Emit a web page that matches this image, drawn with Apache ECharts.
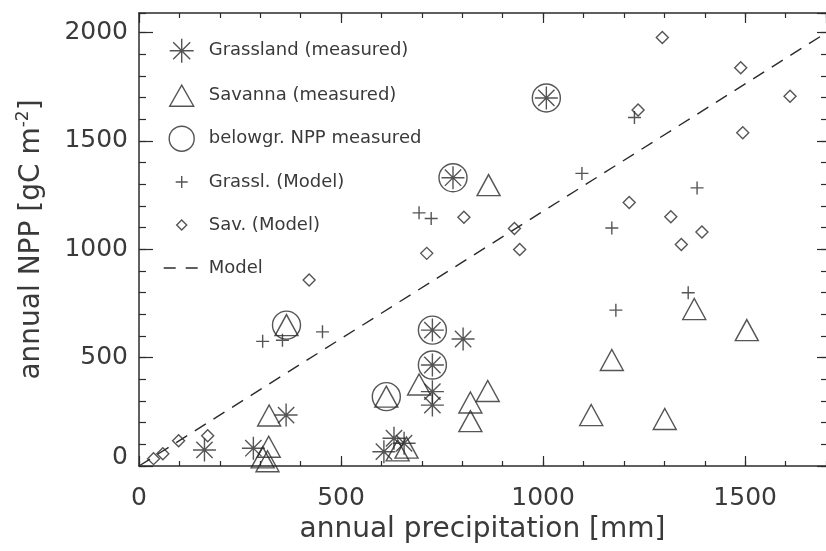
<!DOCTYPE html>
<html>
<head>
<meta charset="utf-8">
<script src="https://cdn.jsdelivr.net/npm/echarts@6/dist/echarts.min.js"></script>
<style>
  html, body { margin: 0; padding: 0; background: #fff; }
  #chart { width: 826px; height: 551px; }
</style>
</head>
<body>
<div id="chart"></div>
<script>
// Annual NPP vs annual precipitation: measured sites and model output

// Grassland sites, measured NPP
const grassMeasPrecip = [162, 283, 364, 606, 631, 656, 726, 726, 726, 726, 802, 777, 1008];
const grassMeasNpp    = [74, 82, 235, 66, 128, 105, 343, 281, 627, 466, 586, 1330, 1698];

// Savanna sites, measured NPP
const savMeasPrecip = [322, 321, 306, 318, 365, 612, 640, 662, 693, 820, 820, 863, 865, 1119, 1170, 1301, 1374, 1504];
const savMeasNpp    = [233, 89, 40, 22, 650, 320, 72, 85, 376, 293, 207, 346, 1296, 235, 489, 217, 724, 627];

// Sites where belowground NPP was measured
const belowPrecip = [365, 612, 726, 726, 777, 1008];
const belowNpp    = [650, 320, 627, 466, 1330, 1698];

// Modelled grassland NPP
const grassModPrecip = [306, 355, 454, 693, 723, 1096, 1170, 1180, 1226, 1359, 1381];
const grassModNpp    = [575, 580, 619, 1168, 1142, 1350, 1098, 719, 1608, 799, 1283];

// Modelled savanna NPP
const savModPrecip = [36, 59, 98, 170, 421, 712, 804, 929, 942, 1213, 1235, 1295, 1316, 1342, 1393, 1489, 1494, 1611];
const savModNpp    = [34, 57, 117, 140, 858, 981, 1148, 1096, 999, 1216, 1642, 1977, 1150, 1022, 1080, 1837, 1537, 1706];

// Model regression line
const modelPrecip = [0, 1700];
const modelNpp    = [0, 1998];

// Axis ranges and tick spacing
const xRange = [0, 1700];
const yRange = [0, 2090];
const majorStep = 500;
const minorStep = 100;

const names = ['Grassland (measured)', 'Savanna (measured)', 'belowgr. NPP measured',
               'Grassl. (Model)', 'Sav. (Model)', 'Model'];

const zip = (a, b) => a.map((v, i) => [v, b[i]]);

const INK = '#2b2b2b';
const TXT = '#3a3a3a';
const FONT = 'DejaVu Sans';

const asteriskPath = 'path://M0,12L24,12M12,0L12,24M3.5,3.5L20.5,20.5M20.5,3.5L3.5,20.5';
const plusPath = 'path://M0,6L12,6M6,0L6,12';
const trianglePath = 'path://M12,0L24,21L0,21Z';
const diamondPath = 'path://M5,0L10,5L5,10L0,5Z';

const openStyle = { color: 'rgba(0,0,0,0)', borderColor: INK, borderWidth: 1.4 };

function xAx(position, step, len, main) {
  return {
    type: 'value', position, min: xRange[0], max: xRange[1], interval: step,
    axisLine: { show: main, onZero: false, lineStyle: { color: INK, width: 1.5 } },
    axisTick: { show: true, inside: true, length: len, lineStyle: { color: INK, width: 1.2 } },
    axisLabel: { show: false },
    splitLine: { show: false }
  };
}
function yAx(position, step, len, main) {
  return {
    type: 'value', position, min: yRange[0], max: yRange[1], interval: step,
    axisLine: { show: main, onZero: false, lineStyle: { color: INK, width: 1.5 } },
    axisTick: { show: true, inside: true, length: len, lineStyle: { color: INK, width: 1.2 } },
    axisLabel: { show: false },
    splitLine: { show: false }
  };
}

const xMain = xAx('bottom', majorStep, 10, true);
xMain.axisLabel = {
  show: true, fontSize: 25, fontFamily: FONT, color: TXT, margin: 20, showMaxLabel: false,
  formatter: v => String(v)
};
xMain.name = 'annual precipitation [mm]';
xMain.nameLocation = 'middle';
xMain.nameGap = 50;
xMain.nameTextStyle = { fontSize: 28, fontFamily: FONT, color: TXT };

const yMain = yAx('left', majorStep, 14, true);
yMain.axisLabel = {
  show: true, fontSize: 25, fontFamily: FONT, color: TXT, margin: 11, showMaxLabel: false,
  formatter: v => (v === 0 ? '{z|0}' : String(v)),
  rich: { z: { fontSize: 25, fontFamily: FONT, color: TXT, padding: [0, 0, 18, 0] } }
};
yMain.name = 'annual NPP [gC m{sup|-2}]';
yMain.nameLocation = 'middle';
yMain.nameGap = 91;
yMain.nameTextStyle = {
  fontSize: 28, fontFamily: FONT, color: TXT,
  rich: { sup: { fontSize: 17, fontFamily: FONT, color: TXT, padding: [0, 0, 16, 0] } }
};

// One legend box per entry so each keeps its own marker size;
// w is the drawn marker width, so every marker is centred on the same column
const legendRows = [50, 95, 138, 182, 225, 268];
const legendIcons = [
  { icon: asteriskPath, w: 24, h: 24 },
  { icon: trianglePath, w: 24, h: 21 },
  { icon: 'circle', w: 25, h: 25 },
  { icon: plusPath, w: 12, h: 12 },
  { icon: diamondPath, w: 10, h: 10 },
  { icon: null, w: 44, h: 14 }
];
const legendIconCenter = 181;
const legendItemWidth = 44;
const legends = names.map((n, i) => {
  const ic = legendIcons[i];
  const boxH = Math.max(ic.h, 20);
  const lg = {
    show: true, orient: 'vertical',
    left: legendIconCenter - ic.w / 2, top: legendRows[i] - boxH / 2,
    padding: 0, itemWidth: legendItemWidth, itemHeight: ic.h, selectedMode: false,
    textStyle: { fontSize: 18, fontFamily: FONT, color: TXT, lineHeight: 20 },
    data: [ic.icon ? { name: n, icon: ic.icon } : { name: n }]
  };
  if (ic.icon) {
    lg.itemStyle = { color: 'rgba(0,0,0,0)', borderColor: INK, borderWidth: 1.4 };
  } else {
    // dashed line only, no marker dot
    lg.itemStyle = { color: 'rgba(0,0,0,0)', borderColor: 'rgba(0,0,0,0)', borderWidth: 0, opacity: 0 };
    lg.lineStyle = { color: INK, width: 1.4, type: [12, 10], dashOffset: 18 };
  }
  return lg;
});

const yRight = yAx('right', majorStep, 9, false);

const chart = echarts.init(document.getElementById('chart'), null, { renderer: 'canvas' });
chart.setOption({
  animation: false,
  backgroundColor: '#fff',
  grid: { left: 139, top: 13, right: -2, bottom: 85, containLabel: false },
  legend: legends,
  xAxis: [xMain, xAx('bottom', minorStep, 5, false), xAx('top', majorStep, 10, true), xAx('top', minorStep, 5, false)],
  yAxis: [yMain, yAx('left', minorStep, 7, false), yRight, yAx('right', minorStep, 5, false)],
  series: [
    { name: names[0], type: 'scatter', silent: true, symbol: asteriskPath, symbolSize: 23,
      itemStyle: openStyle, data: zip(grassMeasPrecip, grassMeasNpp) },
    { name: names[1], type: 'scatter', silent: true, symbol: 'triangle', symbolSize: [23, 21],
      itemStyle: openStyle, data: zip(savMeasPrecip, savMeasNpp) },
    { name: names[2], type: 'scatter', silent: true, symbol: 'circle', symbolSize: 28,
      itemStyle: openStyle, data: zip(belowPrecip, belowNpp) },
    { name: names[3], type: 'scatter', silent: true, symbol: plusPath, symbolSize: 13,
      itemStyle: openStyle, data: zip(grassModPrecip, grassModNpp) },
    { name: names[4], type: 'scatter', silent: true, symbol: 'diamond', symbolSize: 12,
      itemStyle: openStyle, data: zip(savModPrecip, savModNpp) },
    { name: names[5], type: 'line', silent: true, showSymbol: false, symbol: 'none',
      itemStyle: { color: INK },
      lineStyle: { color: INK, width: 1.4, type: [13, 9] }, data: zip(modelPrecip, modelNpp) }
  ]
});
</script>
</body>
</html>
